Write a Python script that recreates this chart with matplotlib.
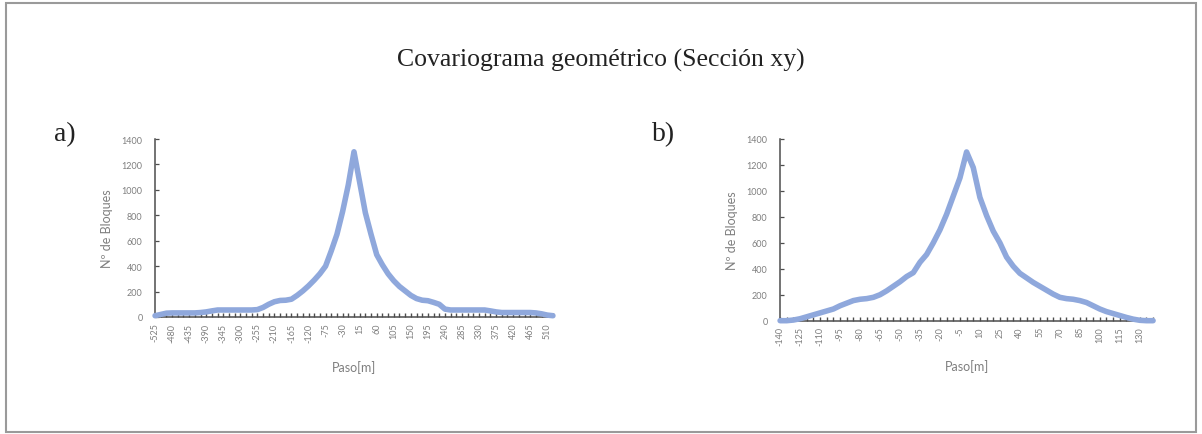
import numpy as np
import matplotlib.pyplot as plt
from matplotlib.patches import Rectangle

# Lag (m) and block counts for the xy section

paso_a = list(range(-525, 526, 15))
bloques_a = [10, 20, 30, 32, 32, 32, 32, 32, 35, 40,
             48, 55, 55, 55, 55, 55, 55, 55, 58, 75,
             100, 120, 130, 132, 140, 170, 205, 245, 290, 340,
             400, 520, 650, 830, 1040,
             1300,
             1060, 820, 650, 490, 410, 340, 285, 240, 205, 170,
             145, 132, 128, 115, 100, 62, 55, 55, 55, 55,
             55, 55, 55, 48, 40, 35, 35, 35, 35, 35,
             35, 32, 25, 15, 10]

paso_b = list(range(-140, 141, 5))
bloques_b = [0, 0, 5, 15, 30, 45, 60, 75, 90, 115,
             135, 155, 165, 170, 180, 200, 230, 265, 300, 340,
             370, 450, 510, 600, 700, 820, 960, 1100,
             1300,
             1180, 950, 810, 690, 600, 490, 420, 365, 330, 295,
             265, 235, 205, 180, 170, 165, 155, 140, 115, 90,
             70, 55, 40, 25, 12, 3, 0, 0]

y_ticks = [0, 200, 400, 600, 800, 1000, 1200, 1400]

LINE = '#8FA8DC'
AXIS = '#4d4d4d'
TEXT = '#7F7F7F'

plt.rcParams['font.family'] = ['Lato', 'DejaVu Sans']

fig = plt.figure(figsize=(12.02, 4.35), dpi=100)
fig.patch.set_facecolor('white')

# Outer frame
fig.patches.append(Rectangle((0.005, 0.005), 0.99, 0.985, transform=fig.transFigure,
                             fill=False, edgecolor='#9a9a9a', linewidth=1.5))

fig.text(0.5, 0.86, 'Covariograma geométrico (Sección xy)', ha='center', va='center',
         fontsize=18.5, family='Liberation Serif', color='#222222')
fig.text(0.054, 0.69, 'a)', ha='center', va='center', fontsize=20,
         family='Liberation Serif', color='#222222')
fig.text(0.552, 0.69, 'b)', ha='center', va='center', fontsize=20,
         family='Liberation Serif', color='#222222')


def draw_panel(ax, paso, bloques, step_label, xpad):
    ax.plot(paso, bloques, color=LINE, linewidth=4.0, solid_capstyle='round',
            solid_joinstyle='round', zorder=3, clip_on=False)
    ax.set_xlim(paso[0], paso[-1])
    ax.set_ylim(0, 1400)
    ax.set_yticks(y_ticks)
    ax.set_xticks(paso)
    ax.set_xticklabels([str(p) if i % step_label == 0 else '' for i, p in enumerate(paso)],
                       rotation=90)
    for side in ['top', 'right']:
        ax.spines[side].set_visible(False)
    for side in ['left', 'bottom']:
        ax.spines[side].set_color(AXIS)
        ax.spines[side].set_linewidth(1.1)
    ax.tick_params(axis='x', direction='in', length=3, width=1.0, color=AXIS,
                   labelsize=6.5, labelcolor=TEXT, pad=4)
    ax.tick_params(axis='y', direction='in', length=3, width=0.9, color=AXIS,
                   labelsize=6.5, labelcolor=TEXT, pad=9)
    ax.set_xlabel('Paso[m]', fontsize=9, color=TEXT, labelpad=xpad)
    ax.set_ylabel('Nº de Bloques', fontsize=9, color=TEXT, labelpad=6)


ax1 = fig.add_axes([0.129, 0.269, 0.331, 0.409])
draw_panel(ax1, paso_a, bloques_a, 3, 13)

ax2 = fig.add_axes([0.649, 0.2605, 0.3103, 0.4177])
draw_panel(ax2, paso_b, bloques_b, 3, 10)

fig.savefig('out.png', dpi=100, facecolor='white')
